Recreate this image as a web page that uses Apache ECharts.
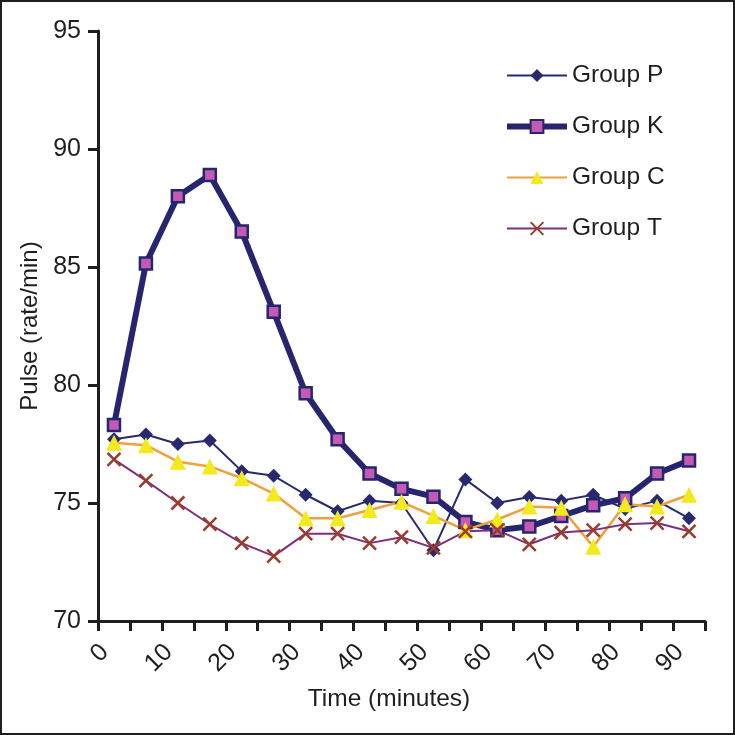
<!DOCTYPE html>
<html>
<head>
<meta charset="utf-8">
<script src="https://cdn.jsdelivr.net/npm/echarts@6/dist/echarts.min.js"></script>
<style>
html,body{margin:0;padding:0;background:#fff;}
#frame{position:absolute;left:0;top:0;width:735px;height:735px;box-sizing:border-box;border:2px solid #1e1e1e;}
#chart{position:absolute;left:0;top:0;width:735px;height:735px;}
</style>
</head>
<body>
<div id="chart"></div>
<div id="frame"></div>
<script>
const categories = ['0','5','10','15','20','25','30','35','40','45','50','55','60','65','70','75','80','85','90'];
const groupP = [77.7, 77.9, 77.5, 77.65, 76.35, 76.15, 75.35, 74.65, 75.1, 75.0, 73.0, 76.0, 75.0, 75.25, 75.1, 75.35, 74.75, 75.1, 74.35];
const groupK = [78.3, 85.15, 88.0, 88.9, 86.5, 83.1, 79.65, 77.7, 76.25, 75.6, 75.27, 74.2, 73.85, 74.0, 74.45, 74.9, 75.2, 76.25, 76.8];
const groupC = [77.55, 77.45, 76.75, 76.55, 76.05, 75.4, 74.35, 74.35, 74.7, 75.05, 74.45, 73.85, 74.3, 74.85, 74.8, 73.15, 74.95, 74.85, 75.35];
const groupT = [76.85, 75.95, 75.0, 74.1, 73.3, 72.75, 73.7, 73.7, 73.3, 73.55, 73.1, 73.8, 73.85, 73.25, 73.75, 73.85, 74.1, 74.15, 73.8];
const yTicks = {min: 70, max: 95, interval: 5};
const seriesNames = ['Group P', 'Group K', 'Group C', 'Group T'];

const FONT = '"Liberation Sans", Arial, sans-serif';
const AX = '#1e1e1e';
const NAVY = '#26266f';
const chart = echarts.init(document.getElementById('chart'), null, {renderer: 'canvas'});
chart.setOption({
  animation: false,
  backgroundColor: '#ffffff',
  grid: {left: 98, right: 30, top: 31, bottom: 114, containLabel: false},
  legend: {
    orient: 'vertical',
    left: 499,
    top: 58,
    itemWidth: 60,
    itemHeight: 16,
    itemGap: 26,
    textStyle: {fontFamily: FONT, fontSize: 24.5, color: '#1e1e1e'},
    data: [
      {name: seriesNames[0]},
      {name: seriesNames[1], lineStyle: {width: 6, color: NAVY}},
      {name: seriesNames[2]},
      {name: seriesNames[3]}
    ]
  },
  xAxis: {
    type: 'category',
    data: categories,
    boundaryGap: true,
    name: 'Time (minutes)',
    nameLocation: 'middle',
    nameGap: 66,
    nameTextStyle: {fontFamily: FONT, fontSize: 24.5, color: '#1e1e1e', padding: [0, 25, 0, 0]},
    axisLine: {lineStyle: {color: AX, width: 3}},
    axisTick: {show: true, interval: 0, alignWithLabel: false, length: 10, lineStyle: {color: AX, width: 3}},
    axisLabel: {interval: 1, rotate: 45, margin: 18, fontFamily: FONT, fontSize: 25, color: '#1e1e1e', padding: [0, 13, 0, 0]},
    splitLine: {show: false}
  },
  yAxis: {
    type: 'value',
    min: yTicks.min, max: yTicks.max, interval: yTicks.interval,
    name: 'Pulse (rate/min)',
    nameLocation: 'middle',
    nameGap: 55,
    nameRotate: 90,
    nameTextStyle: {fontFamily: FONT, fontSize: 24, color: '#1e1e1e'},
    axisLine: {show: true, lineStyle: {color: AX, width: 3}},
    axisTick: {show: true, length: 10, lineStyle: {color: AX, width: 3}},
    axisLabel: {margin: 17, fontFamily: FONT, fontSize: 25, color: '#1e1e1e'},
    splitLine: {show: false}
  },
  series: [
    {
      name: seriesNames[0], type: 'line', data: groupP,
      symbol: 'diamond', symbolSize: 14,
      lineStyle: {color: '#28296f', width: 2},
      itemStyle: {color: '#28296f', borderWidth: 0}
    },
    {
      name: seriesNames[1], type: 'line', data: groupK,
      symbol: 'rect', symbolSize: 12,
      lineStyle: {color: NAVY, width: 6},
      itemStyle: {color: '#c45ab3', borderColor: NAVY, borderWidth: 2.5}
    },
    {
      name: seriesNames[2], type: 'line', data: groupC,
      symbol: 'triangle', symbolSize: 16,
      lineStyle: {color: '#f0a03c', width: 2.5},
      itemStyle: {color: '#f2ea1c', borderWidth: 0}
    },
    {
      name: seriesNames[3], type: 'line', data: groupT,
      symbol: 'path://M0,0L10,10M10,0L0,10', symbolSize: 13,
      lineStyle: {color: '#7b2f7d', width: 2},
      itemStyle: {color: 'none', borderColor: '#9b3b2b', borderWidth: 2.5}
    }
  ]
});
</script>
</body>
</html>
